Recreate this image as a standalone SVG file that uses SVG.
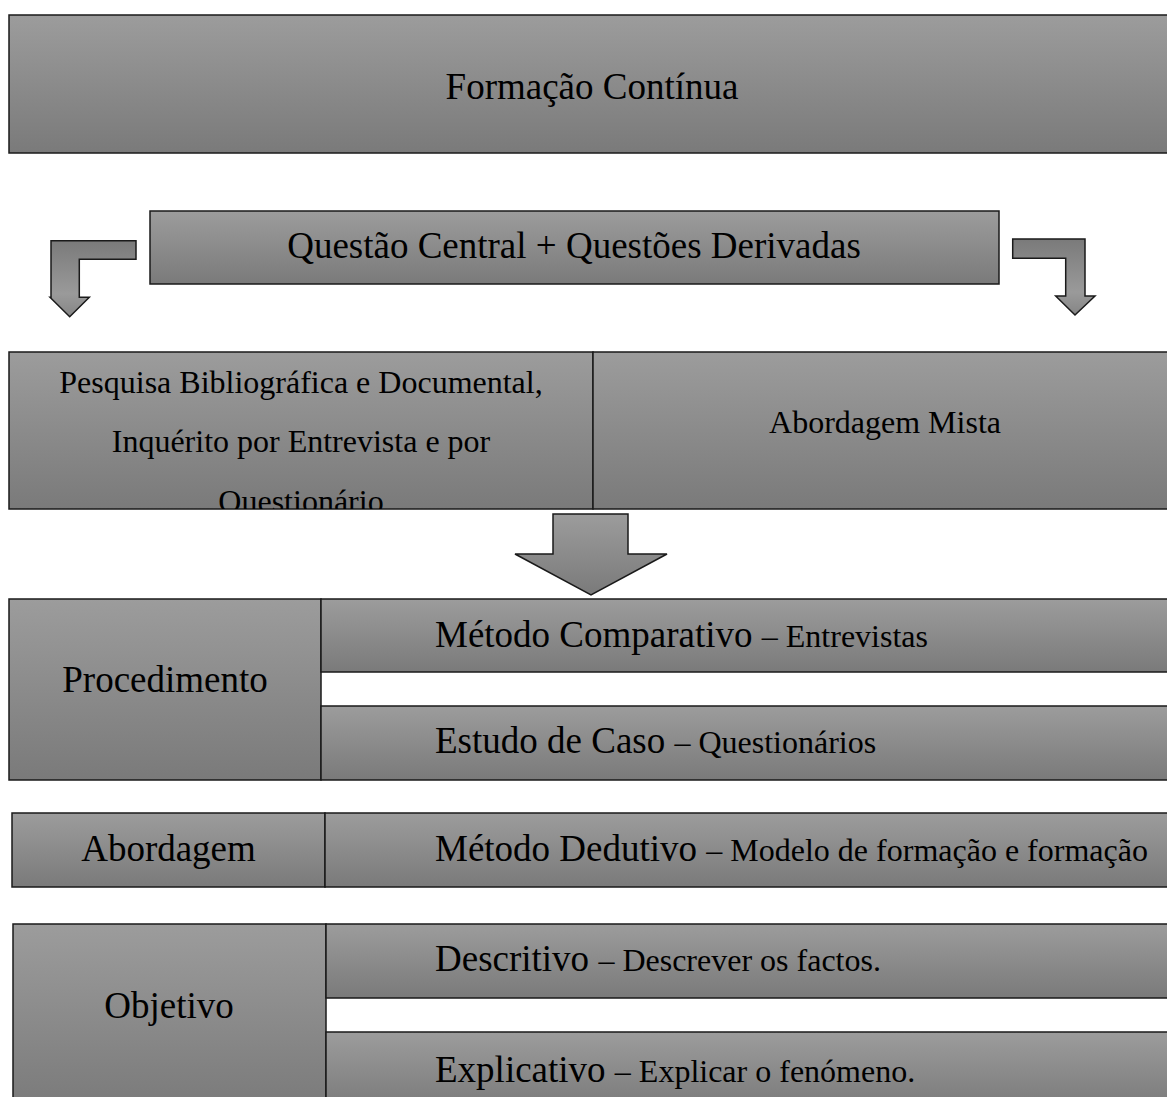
<svg xmlns="http://www.w3.org/2000/svg" width="1167" height="1097" viewBox="0 0 1167 1097">
<defs>
<linearGradient id="g" x1="0" y1="0" x2="0" y2="1">
<stop offset="0" stop-color="#9c9c9c"/>
<stop offset="1" stop-color="#7a7a7a"/>
</linearGradient>
<linearGradient id="ga" x1="0" y1="0" x2="0" y2="1">
<stop offset="0" stop-color="#7a7a7a"/>
<stop offset="0.7" stop-color="#9a9a9a"/>
<stop offset="1" stop-color="#858585"/>
</linearGradient>
<clipPath id="c3"><rect x="9" y="352" width="584" height="157"/></clipPath>
</defs>
<style>
.b{fill:url(#g);stroke:#1a1a1a;stroke-width:1.5}
.a{fill:url(#ga);stroke:#1a1a1a;stroke-width:1.5;stroke-linejoin:miter}
.t{font-family:"Liberation Serif","Times New Roman",serif;fill:#000}
.L{font-size:37px}
.S{font-size:32px}
.m{text-anchor:middle}
</style>
<rect width="1167" height="1097" fill="#fff"/>

<g id="formacao">
<rect class="b" x="9" y="15" width="1170" height="138"/>
<text class="t L m" x="592" y="99">Formação Contínua</text>
</g>

<g id="questao">
<rect class="b" x="150" y="211" width="849" height="73"/>
<text class="t L m" x="574" y="258">Questão Central + Questões Derivadas</text>
</g>

<g id="connectors">
<polygon class="a" points="136,240.7 51,240.7 51,297.3 50,297.3 69.7,316.7 89.3,297.3 79.3,297.3 79.3,259.3 136,259.3"/>
<polygon class="a" points="1012.7,239 1085,239 1085,296 1095,296 1075,315 1055.7,296 1065.7,296 1065.7,258.3 1012.7,258.3"/>
<polygon class="b" points="553,514 628,514 628,554 667,554 591,595 515,554 553,554"/>
</g>

<g id="metodos">
<rect class="b" x="9" y="352" width="584" height="157"/>
<rect class="b" x="593" y="352" width="590" height="157"/>
<g clip-path="url(#c3)">
<text class="t S m" x="301" y="393">Pesquisa Bibliográfica e Documental,</text>
<text class="t S m" x="301" y="452">Inquérito por Entrevista e por</text>
<text class="t S m" x="301" y="512">Questionário</text>
</g>
<text class="t S m" x="885" y="433">Abordagem Mista</text>
</g>

<g id="procedimento">
<rect class="b" x="9" y="599" width="312" height="181"/>
<text class="t L m" x="165" y="692">Procedimento</text>
<rect class="b" x="321" y="599" width="860" height="73"/>
<text class="t" x="435" y="647"><tspan class="L">Método Comparativo </tspan><tspan class="S">– Entrevistas</tspan></text>
<rect class="b" x="321" y="706" width="860" height="74"/>
<text class="t" x="435" y="753"><tspan class="L">Estudo de Caso </tspan><tspan class="S">– Questionários</tspan></text>
</g>

<g id="abordagem">
<rect class="b" x="12" y="813" width="313" height="74"/>
<text class="t L m" x="168.5" y="861">Abordagem</text>
<rect class="b" x="325" y="813" width="856" height="74"/>
<text class="t" x="435" y="861"><tspan class="L">Método Dedutivo </tspan><tspan class="S">– Modelo de formação e formação</tspan></text>
</g>

<g id="objetivo">
<rect class="b" x="13" y="924" width="313" height="185"/>
<text class="t L m" x="169" y="1018">Objetivo</text>
<rect class="b" x="326" y="924" width="855" height="74"/>
<text class="t" x="435" y="971"><tspan class="L">Descritivo </tspan><tspan class="S">– Descrever os factos.</tspan></text>
<rect class="b" x="326" y="1032" width="855" height="77"/>
<text class="t" x="435" y="1082"><tspan class="L">Explicativo </tspan><tspan class="S">– Explicar o fenómeno.</tspan></text>
</g>
</svg>
